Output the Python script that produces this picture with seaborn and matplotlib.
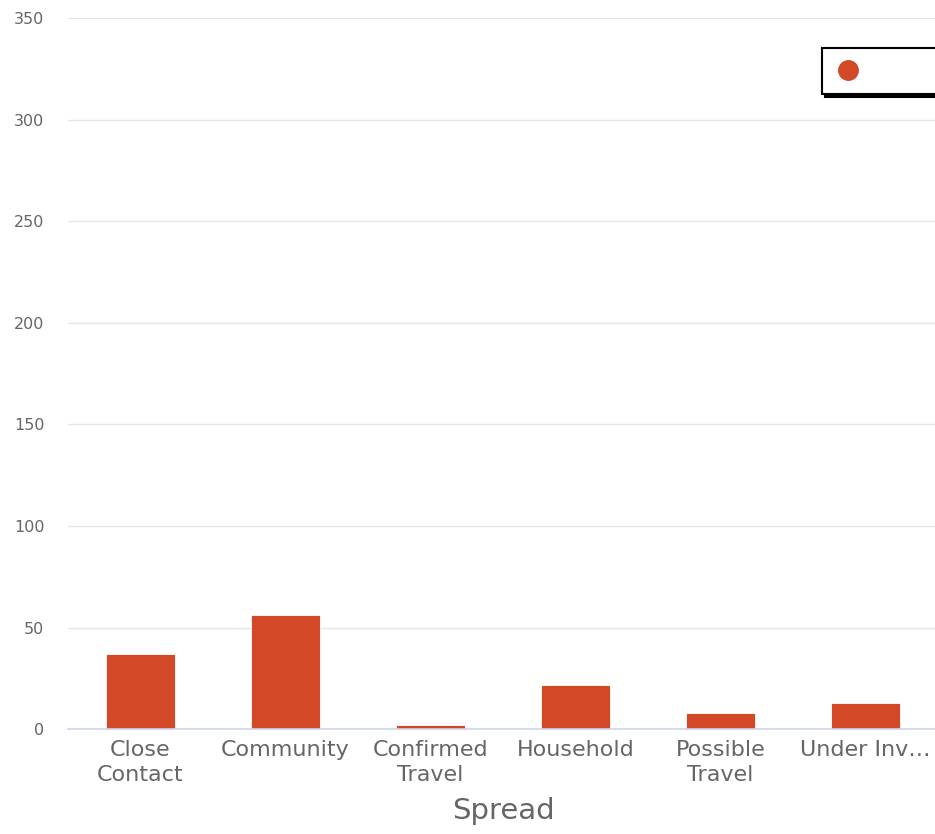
import matplotlib
matplotlib.use("Agg")
import matplotlib.pyplot as plt
import seaborn as sns
import pandas as pd
from matplotlib.lines import Line2D

categories = ["Close\nContact", "Community", "Confirmed\nTravel", "Household", "Possible\nTravel", "Under Inv\u2026"]
values = [37, 56, 2, 22, 8, 13]
y_ticks = [0, 50, 100, 150, 200, 250, 300, 350]

BAR = "#D34826"
TXT = "#666666"

sns.set_theme(style="white")
plt.rcParams["font.family"] = ["DejaVu Sans"]

fig = plt.figure(figsize=(9.35, 8.34), dpi=100)
W, H = 935, 834
left, right = 68, 938
top, bottom = 18, 729.3
ax = fig.add_axes([left / W, 1 - bottom / H, (right - left) / W, (bottom - top) / H])

df = pd.DataFrame({"Spread": categories, "Count": values})
sns.barplot(data=df, x="Spread", y="Count", color=BAR, width=0.475, ax=ax,
            saturation=1, edgecolor="white", linewidth=0.6)

ax.set_xlim(-0.5, len(categories) - 0.5)
ax.set_ylim(0, 350)
ax.set_yticks(y_ticks)
ax.set_yticklabels([str(t) for t in y_ticks])
ax.set_xticks(range(len(categories)))
ax.set_xticklabels(categories, linespacing=1.3)
ax.grid(axis="y", color="#e6e6e6", linewidth=1)
ax.set_axisbelow(True)
for s in ["top", "right", "left"]:
    ax.spines[s].set_visible(False)
ax.spines["bottom"].set_color("#ccd6eb")
ax.spines["bottom"].set_linewidth(1.2)

ax.tick_params(axis="y", length=0, pad=17, labelsize=11.5, labelcolor=TXT)
ax.tick_params(axis="x", length=10.5, width=1, color="#ccd6eb", pad=-3,
               labelsize=16, labelcolor=TXT)

ax.set_ylabel("")
ax.set_xlabel("Spread", fontsize=21, color=TXT, labelpad=9)

handle = Line2D([], [], marker="o", linestyle="none", markersize=14,
                markerfacecolor=BAR, markeredgecolor=BAR)
leg = fig.legend(handles=[handle], labels=["          "], loc="upper left",
                 bbox_to_anchor=(822 / W, 1 - 48 / H), bbox_transform=fig.transFigure,
                 frameon=True, fancybox=False,
                 shadow={"color": "black", "alpha": 1.0},
                 fontsize=14, handlelength=1.3, handletextpad=0.5,
                 borderpad=0.7, borderaxespad=0)
leg.get_frame().set_edgecolor("black")
leg.get_frame().set_linewidth(1.5)

fig.savefig("out.png", dpi=100)
